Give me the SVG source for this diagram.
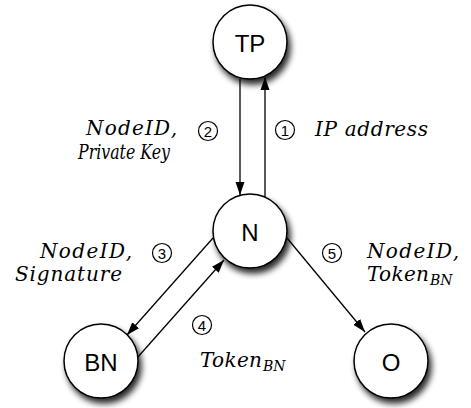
<svg xmlns="http://www.w3.org/2000/svg" width="471" height="408" viewBox="0 0 471 408">
<defs>
<filter id="sh" x="-30%" y="-30%" width="170%" height="170%">
<feGaussianBlur in="SourceAlpha" stdDeviation="3"/>
<feOffset dx="3" dy="5" result="b"/>
<feComponentTransfer><feFuncA type="linear" slope="0.85"/></feComponentTransfer>
<feMerge><feMergeNode/><feMergeNode in="SourceGraphic"/></feMerge>
</filter>
<marker id="ah" markerWidth="13" markerHeight="10" refX="13" refY="5" orient="auto" markerUnits="userSpaceOnUse">
<path d="M0,0.5 L13,5 L0,9.5 Z" fill="#000"/>
</marker>
</defs>
<style>
.node circle{fill:#fff;stroke:#000;stroke-width:1.5;}
.node text{font-family:"Liberation Sans",Arial,sans-serif;font-size:24px;text-anchor:middle;fill:#000;}
.edges line{stroke:#000;stroke-width:1.3;fill:none;}
.num circle{fill:#fff;stroke:#000;stroke-width:1.2;}
.num text{font-family:"Liberation Sans",Arial,sans-serif;font-size:15px;text-anchor:middle;}
.lbl{font-family:"DejaVu Serif","Liberation Serif",serif;font-style:italic;font-size:20px;fill:#000;}
.sub{font-size:14px;}
</style>
<rect width="471" height="408" fill="#fff"/>
<g id="edges" class="edges">
<line x1="240" y1="79" x2="240" y2="195" marker-end="url(#ah)"/>
<line x1="265" y1="197" x2="265" y2="77" marker-end="url(#ah)"/>
<line x1="213" y1="238" x2="127" y2="335" marker-end="url(#ah)"/>
<line x1="137" y1="358" x2="224" y2="260" marker-end="url(#ah)"/>
<line x1="287" y1="238" x2="365" y2="332" marker-end="url(#ah)"/>
</g>
<g id="TP" class="node"><circle cx="250" cy="42" r="37" filter="url(#sh)"/><text x="250" y="52">TP</text></g>
<g id="N" class="node"><circle cx="250" cy="231" r="37" filter="url(#sh)"/><text x="250" y="241">N</text></g>
<g id="BN" class="node"><circle cx="101" cy="361" r="37" filter="url(#sh)"/><text x="101" y="371">BN</text></g>
<g id="O" class="node"><circle cx="391" cy="361" r="37" filter="url(#sh)"/><text x="391" y="371">O</text></g>
<g id="labels">
<g class="num"><circle cx="208" cy="131" r="9.5"/><text x="208" y="136.5">2</text></g>
<g class="num"><circle cx="285" cy="130" r="9.5"/><text x="285" y="135.5">1</text></g>
<g class="num"><circle cx="162" cy="253" r="9.5"/><text x="162" y="258.5">3</text></g>
<g class="num"><circle cx="332" cy="253" r="9.5"/><text x="332" y="258.5">5</text></g>
<g class="num"><circle cx="202" cy="325" r="9.5"/><text x="202" y="330.5">4</text></g>
<text class="lbl" x="86" y="135" textLength="91" lengthAdjust="spacing">NodeID,</text>
<text class="lbl" x="78" y="159" textLength="92" lengthAdjust="spacingAndGlyphs">Private Key</text>
<text class="lbl" x="315" y="136" textLength="113" lengthAdjust="spacing">IP address</text>
<text class="lbl" x="40" y="258" textLength="92" lengthAdjust="spacing">NodeID,</text>
<text class="lbl" x="15" y="281" textLength="107" lengthAdjust="spacing">Signature</text>
<text class="lbl" x="367" y="258" textLength="92" lengthAdjust="spacing">NodeID,</text>
<text class="lbl" y="281"><tspan x="367" textLength="62" lengthAdjust="spacing">Token</tspan><tspan class="sub" x="430" dy="4">BN</tspan></text>
<text class="lbl" y="367"><tspan x="200" textLength="62" lengthAdjust="spacing">Token</tspan><tspan class="sub" x="263" dy="4">BN</tspan></text>
</g>
</svg>
